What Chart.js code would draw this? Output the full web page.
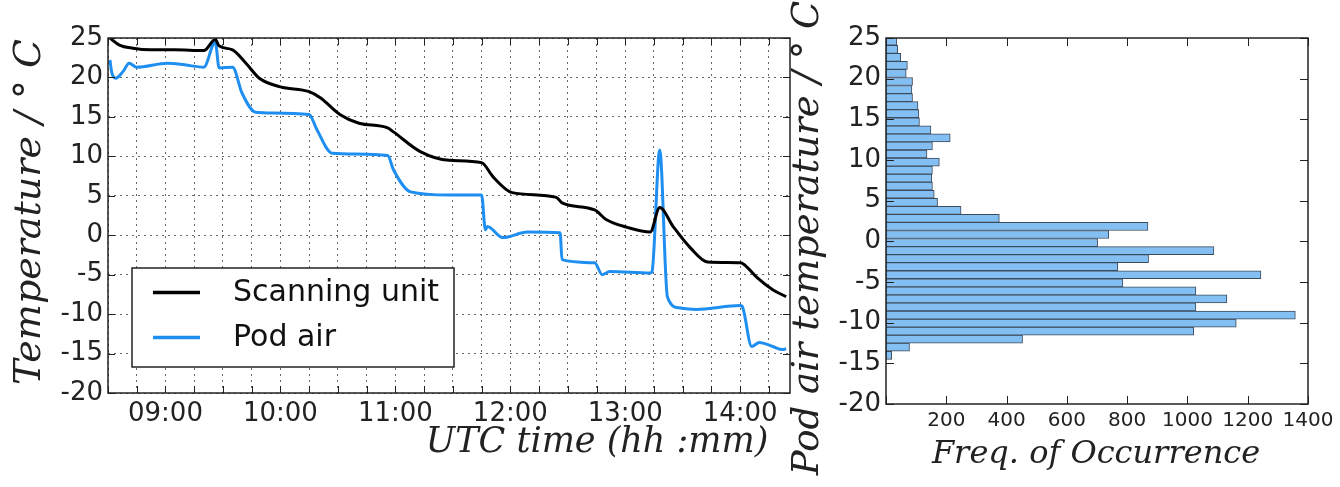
<!DOCTYPE html>
<html>
<head>
<meta charset="utf-8">
<script src="https://cdn.jsdelivr.net/npm/chart.js@4.4.1/dist/chart.umd.min.js"></script>
<style>
  html, body { margin: 0; padding: 0; background: #fff; }
  #wrap { position: relative; width: 1340px; height: 487px; overflow: hidden; }
  #wrap canvas { position: absolute; top: 0; }
</style>
</head>
<body>
<div id="wrap">
  <canvas id="lineChart" width="800" height="487" style="left:0"></canvas>
  <canvas id="histChart" width="560" height="487" style="left:780px"></canvas>
</div>
<script>
// scanning unit temperature (UTC hh:mm, deg C)
const scanTimes = ['08:31','08:36','08:43','08:52','09:05','09:20','09:26','09:28','09:35','09:42',
  '09:49','10:00','10:15','10:21','10:31','10:41','10:56','10:59','11:13','11:28',
  '11:45','11:51','12:01','12:24','12:27','12:44','12:50','13:01','13:13','13:18',
  '13:25','13:34','13:43','14:00','14:02','14:09','14:17','14:24'];
const scanTemps = [25.0, 24.1, 23.7, 23.5, 23.5, 23.4, 24.8, 24.0, 23.5, 21.8,
  19.9, 18.8, 18.2, 17.4, 15.3, 14.2, 13.6, 13.1, 10.6, 9.5,
  9.2, 7.4, 5.4, 4.8, 4.1, 3.2, 2.0, 1.0, 0.4, 3.5,
  1.1, -1.6, -3.4, -3.5, -3.7, -5.4, -6.9, -7.8];

// pod air temperature
const podTimes = ['08:31','08:32','08:34','08:38','08:41','08:45','09:01','09:10','09:20','09:26',
  '09:28','09:35','09:40','09:47','09:56','10:15','10:19','10:27','10:56','10:59',
  '11:08','11:28','11:45','11:47','11:48','11:56','12:09','12:26','12:27','12:44',
  '12:48','12:52','13:13','13:14','13:18','13:22','13:28','13:37','14:00','14:01',
  '14:06','14:10','14:17','14:22','14:24'];
const podTemps = [22.2, 20.6, 19.9, 20.8, 21.8, 21.3, 21.8, 21.6, 21.3, 24.5,
  21.2, 21.3, 18.0, 15.6, 15.5, 15.3, 13.4, 10.4, 10.1, 8.3,
  5.5, 5.1, 5.1, 0.7, 1.1, -0.3, 0.4, 0.3, -3.1, -3.5,
  -5.0, -4.6, -4.8, -4.6, 10.8, -7.8, -9.2, -9.4, -8.9, -9.0,
  -14.1, -13.6, -14.1, -14.5, -14.4];

// histogram of pod air temperature: bin centres (deg C) and counts
const binCentres = [-14.01, -13.02, -12.03, -11.04, -10.05, -9.06, -8.07, -7.08, -6.09, -5.10,
  -4.11, -3.12, -2.13, -1.14, -0.15, 0.84, 1.83, 2.82, 3.81, 4.80,
  5.79, 6.78, 7.77, 8.76, 9.75, 10.74, 11.73, 12.72, 13.71, 14.70,
  15.69, 16.68, 17.67, 18.66, 19.65, 20.64, 21.63, 22.62, 23.61, 24.60];
const binCounts = [19, 78, 453, 1021, 1162, 1358, 1028, 1131, 1028, 786,
  1244, 769, 871, 1088, 702, 739, 869, 376, 249, 171,
  160, 154, 152, 154, 177, 136, 154, 213, 149, 111,
  109, 106, 88, 86, 88, 67, 71, 49, 39, 36];

const toMin = s => { const p = s.split(':'); return (+p[0]) * 60 + (+p[1]); };
const pad2 = n => (n < 10 ? '0' : '') + n;

Chart.defaults.font.family = 'DejaVu Sans';
Chart.defaults.color = '#222';

// box round the plot area plus inward tick marks on all four sides
const frameTicks = {
  id: 'frameTicks',
  afterDatasetsDraw(chart, args, opts) {
    const {ctx, chartArea: a, scales} = chart;
    const len = opts.len || 7;
    ctx.save();
    ctx.strokeStyle = '#222';
    ctx.lineWidth = 1;
    ctx.beginPath();
    scales.x.ticks.forEach(t => {
      const px = Math.round(scales.x.getPixelForValue(t.value)) + 0.5;
      ctx.moveTo(px, a.bottom); ctx.lineTo(px, a.bottom - len);
      ctx.moveTo(px, a.top); ctx.lineTo(px, a.top + len);
    });
    scales.y.ticks.forEach(t => {
      const py = Math.round(scales.y.getPixelForValue(t.value)) + 0.5;
      ctx.moveTo(a.left, py); ctx.lineTo(a.left + len, py);
      ctx.moveTo(a.right, py); ctx.lineTo(a.right - len, py);
    });
    ctx.stroke();
    ctx.lineWidth = 1.5;
    ctx.strokeRect(a.left, a.top, a.right - a.left, a.bottom - a.top);
    ctx.restore();
  }
};

const axisTitles = {
  id: 'axisTitles',
  afterDraw(chart, args, opts) {
    const ctx = chart.ctx;
    (opts.items || []).forEach(it => {
      ctx.save();
      ctx.font = it.font;
      ctx.fillStyle = '#222';
      ctx.textAlign = 'center';
      ctx.textBaseline = 'middle';
      ctx.translate(it.x, it.y);
      if (it.rotate) ctx.rotate(-Math.PI / 2);
      ctx.fillText(it.text, 0, 0);
      ctx.restore();
    });
  }
};

const boxLegend = {
  id: 'boxLegend',
  afterDraw(chart, args, o) {
    const ctx = chart.ctx;
    ctx.save();
    ctx.fillStyle = '#fff';
    ctx.fillRect(o.x, o.y, o.w, o.h);
    ctx.strokeStyle = '#222';
    ctx.lineWidth = 1.5;
    ctx.strokeRect(o.x, o.y, o.w, o.h);
    ctx.font = o.font;
    ctx.textBaseline = 'middle';
    chart.data.datasets.forEach((ds, i) => {
      const cy = o.y + o.firstRow + i * o.rowGap;
      ctx.strokeStyle = ds.borderColor;
      ctx.lineWidth = 3.5;
      ctx.beginPath();
      ctx.moveTo(o.x + 21, cy); ctx.lineTo(o.x + 68, cy);
      ctx.stroke();
      ctx.fillStyle = '#111';
      ctx.fillText(ds.label, o.x + 101, cy + 1);
    });
    ctx.restore();
  }
};

// left: time series
new Chart(document.getElementById('lineChart'), {
  type: 'line',
  data: {
    datasets: [{
      label: 'Scanning unit',
      data: scanTimes.map((t, i) => ({x: toMin(t), y: scanTemps[i]})),
      borderColor: '#000',
      borderWidth: 3,
      pointRadius: 0,
      cubicInterpolationMode: 'monotone'
    }, {
      label: 'Pod air',
      data: podTimes.map((t, i) => ({x: toMin(t), y: podTemps[i]})),
      borderColor: '#1e8ff0',
      borderWidth: 3,
      pointRadius: 0,
      cubicInterpolationMode: 'monotone'
    }]
  },
  options: {
    responsive: false,
    animation: false,
    layout: {padding: {top: 38, right: 10, left: 0, bottom: 0}},
    plugins: {
      legend: {display: false},
      tooltip: {enabled: false},
      frameTicks: {len: 7},
      boxLegend: {x: 132, y: 268, w: 322, h: 99, firstRow: 24.5, rowGap: 45, font: '30px "DejaVu Sans"'},
      axisTitles: {items: [
        {text: 'Temperature / \u00b0 C', x: 30, y: 212, rotate: true, font: 'italic 38px "DejaVu Serif"'},
        {text: 'UTC time (hh :mm)', x: 597, y: 443, font: 'italic 35px "DejaVu Serif"'}
      ]}
    },
    scales: {
      x: {
        type: 'linear',
        min: 510, max: 866,
        afterFit: s => { s.height = 94; },
        grid: {color: '#666', lineWidth: 1, drawTicks: false},
        border: {display: false, dash: [2, 4]},
        ticks: {
          stepSize: 15, includeBounds: false, autoSkip: false, maxRotation: 0, padding: 6,
          font: {size: 26},
          callback: v => (v % 60 === 0 ? pad2(v / 60) + ':00' : '')
        }
      },
      y: {
        min: -20, max: 25,
        afterFit: s => { s.width = 108; },
        grid: {color: '#666', lineWidth: 1, drawTicks: false},
        border: {display: false, dash: [2, 4]},
        ticks: {stepSize: 5, padding: 5, font: {size: 26}}
      }
    }
  },
  plugins: [frameTicks, boxLegend, axisTitles]
});

// right: histogram of pod air temperature
new Chart(document.getElementById('histChart'), {
  type: 'bar',
  data: {
    datasets: [{
      label: 'Pod air',
      data: binCentres.map((c, i) => ({y: c, x: binCounts[i]})),
      backgroundColor: '#84bff4',
      borderColor: '#3d4a58',
      borderWidth: 1,
      borderSkipped: false,
      categoryPercentage: 1,
      barPercentage: 1
    }]
  },
  options: {
    indexAxis: 'y',
    responsive: false,
    animation: false,
    layout: {padding: {top: 38, right: 32, left: 0, bottom: 0}},
    plugins: {
      legend: {display: false},
      tooltip: {enabled: false},
      frameTicks: {len: 8},
      axisTitles: {items: [
        {text: 'Pod air temperature / \u00b0 C', x: 28, y: 238, rotate: true, font: 'italic 37px "DejaVu Serif"'},
        {text: 'Freq. of Occurrence', x: 316, y: 455, font: 'italic 32px "DejaVu Serif"'}
      ]}
    },
    scales: {
      x: {
        type: 'linear',
        min: 0, max: 1400,
        afterFit: s => { s.height = 83; },
        grid: {display: false, drawTicks: false},
        border: {display: false},
        ticks: {stepSize: 200, padding: 5, maxRotation: 0, font: {size: 20},
          callback: v => (v === 0 ? '' : v)}
      },
      y: {
        type: 'linear',
        min: -20, max: 25,
        offset: false,
        afterFit: s => { s.width = 106; },
        grid: {display: false, drawTicks: false, offset: false},
        border: {display: false},
        ticks: {stepSize: 5, padding: 5, font: {size: 26}}
      }
    }
  },
  plugins: [frameTicks, axisTitles]
});
</script>
</body>
</html>
